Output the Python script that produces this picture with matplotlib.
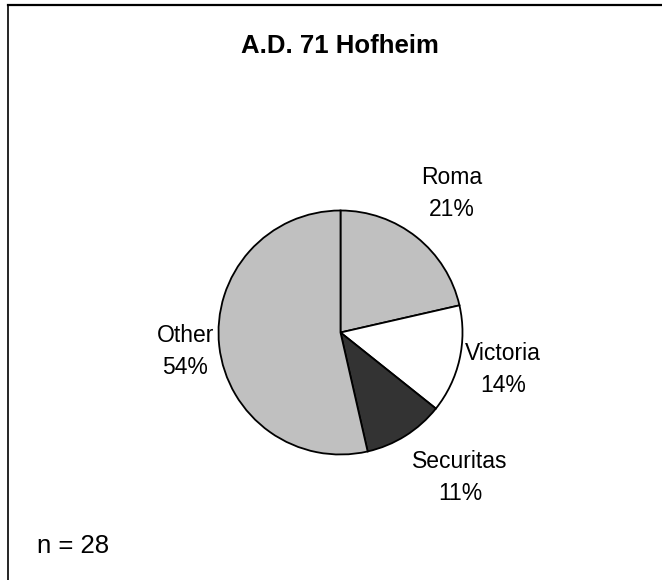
import matplotlib
matplotlib.use("Agg")
import matplotlib.pyplot as plt
from matplotlib.lines import Line2D

plt.rcParams['font.family'] = ['Liberation Sans', 'DejaVu Sans']

title = "A.D. 71 Hofheim"
categories = ["Roma", "Victoria", "Securitas", "Other"]
counts = [6, 4, 3, 15]
colors = ["#c0c0c0", "#ffffff", "#333333", "#c0c0c0"]
n_label = "n = 28"

W, H = 662, 580
fig = plt.figure(figsize=(W / 100, H / 100), dpi=100)
ax = fig.add_axes([0, 0, 1, 1])

cx, cy, r = 340.5, H - 332.5, 122
ax.pie(counts, colors=colors, startangle=90, counterclock=False,
       center=(cx, cy), radius=r, frame=True,
       wedgeprops=dict(edgecolor="black", linewidth=1.3))
ax.set_xlim(0, W)
ax.set_ylim(0, H)
ax.axis("off")

total = sum(counts)
label_pos = {"Roma": (452, 194), "Victoria": (503, 370),
             "Securitas": (460, 477), "Other": (185.5, 351)}
for cat, c in zip(categories, counts):
    x, y = label_pos[cat]
    pct = round(100 * c / total)
    ax.text(x, H - y, f"{cat}\n{pct}%", ha="center", va="center",
            fontsize=16.5, linespacing=1.5)

fig.text(340 / W, 1 - 46 / H, title, ha="center", va="center",
         fontsize=18.5, fontweight="bold")
fig.text(37 / W, 1 - 546 / H, n_label, ha="left", va="center", fontsize=18.5)

# frame (top and left edges)
fig.add_artist(Line2D([8 / W, 1], [1 - 4.5 / H, 1 - 4.5 / H],
                      transform=fig.transFigure, color="black", linewidth=1.6))
fig.add_artist(Line2D([8 / W, 8 / W], [0, 1 - 4.5 / H],
                      transform=fig.transFigure, color="black", linewidth=1.2))

fig.savefig("out.png", dpi=100)
